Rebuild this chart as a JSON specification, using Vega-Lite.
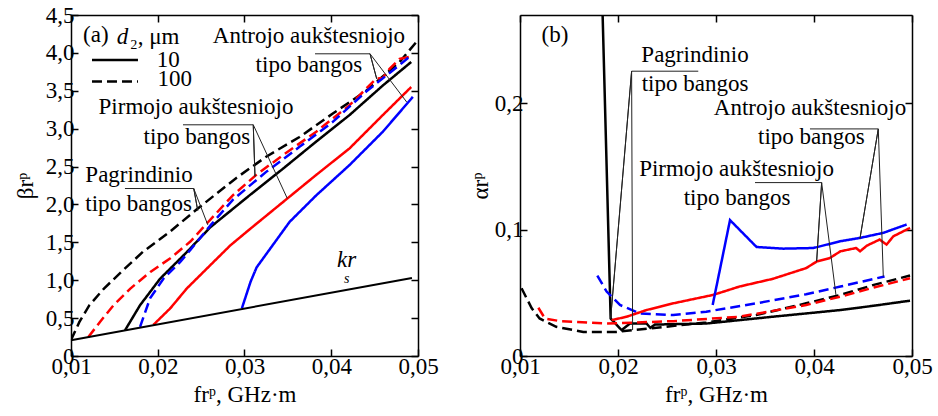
{
"$schema": "https://vega.github.io/schema/vega-lite/v6.json",
"background": "white",
"padding": {"left": 14, "top": 4, "right": 5, "bottom": 5},
"spacing": 30,
"config": {
  "font": "'Liberation Serif', 'DejaVu Serif', serif",
  "view": {"stroke": null},
  "text": {"font": "'Liberation Serif', 'DejaVu Serif', serif"},
  "axis": {"labelFont": "'Liberation Serif', 'DejaVu Serif', serif", "labelFontSize": 23, "labelColor": "black", "titleFont": "'Liberation Serif', 'DejaVu Serif', serif", "titleFontSize": 23, "titleFontWeight": "normal", "titleColor": "black", "domainColor": "black", "domainWidth": 1.5, "tickColor": "black", "tickWidth": 1.5, "tickSize": -7, "grid": false, "labelFlush": false, "labelPadding": 4}
},
"datasets": {
  "curvesA": [
    {"s":"f10","mode":"fund","d2":"10","x":0.01623,"y":0.34},{"s":"f10","mode":"fund","d2":"10","x":0.01796,"y":0.67},{"s":"f10","mode":"fund","d2":"10","x":0.02027,"y":1.02},{"s":"f10","mode":"fund","d2":"10","x":0.02334,"y":1.37},{"s":"f10","mode":"fund","d2":"10","x":0.02607,"y":1.70},{"s":"f10","mode":"fund","d2":"10","x":0.03058,"y":2.12},{"s":"f10","mode":"fund","d2":"10","x":0.03442,"y":2.47},{"s":"f10","mode":"fund","d2":"10","x":0.03827,"y":2.83},{"s":"f10","mode":"fund","d2":"10","x":0.04211,"y":3.18},{"s":"f10","mode":"fund","d2":"10","x":0.04595,"y":3.57},{"s":"f10","mode":"fund","d2":"10","x":0.04922,"y":3.88},
    {"s":"f100","mode":"fund","d2":"100","x":0.0100,"y":0.21},{"s":"f100","mode":"fund","d2":"100","x":0.01097,"y":0.45},{"s":"f100","mode":"fund","d2":"100","x":0.01212,"y":0.67},{"s":"f100","mode":"fund","d2":"100","x":0.01380,"y":0.89},{"s":"f100","mode":"fund","d2":"100","x":0.0158,"y":1.11},{"s":"f100","mode":"fund","d2":"100","x":0.01829,"y":1.375},{"s":"f100","mode":"fund","d2":"100","x":0.0214,"y":1.64},{"s":"f100","mode":"fund","d2":"100","x":0.02444,"y":1.93},{"s":"f100","mode":"fund","d2":"100","x":0.02675,"y":2.14},{"s":"f100","mode":"fund","d2":"100","x":0.02906,"y":2.35},{"s":"f100","mode":"fund","d2":"100","x":0.0325,"y":2.63},{"s":"f100","mode":"fund","d2":"100","x":0.03634,"y":2.89},{"s":"f100","mode":"fund","d2":"100","x":0.04018,"y":3.20},{"s":"f100","mode":"fund","d2":"100","x":0.04403,"y":3.50},{"s":"f100","mode":"fund","d2":"100","x":0.04788,"y":3.88},{"s":"f100","mode":"fund","d2":"100","x":0.0500,"y":4.17},
    {"s":"p100","mode":"first","d2":"100","x":0.0120,"y":0.25},{"s":"p100","mode":"first","d2":"100","x":0.01334,"y":0.45},{"s":"p100","mode":"first","d2":"100","x":0.0149,"y":0.67},{"s":"p100","mode":"first","d2":"100","x":0.01684,"y":0.89},{"s":"p100","mode":"first","d2":"100","x":0.01915,"y":1.11},{"s":"p100","mode":"first","d2":"100","x":0.02145,"y":1.29},{"s":"p100","mode":"first","d2":"100","x":0.02376,"y":1.51},{"s":"p100","mode":"first","d2":"100","x":0.02607,"y":1.80},{"s":"p100","mode":"first","d2":"100","x":0.02865,"y":2.12},{"s":"p100","mode":"first","d2":"100","x":0.03135,"y":2.39},{"s":"p100","mode":"first","d2":"100","x":0.03442,"y":2.65},{"s":"p100","mode":"first","d2":"100","x":0.03827,"y":2.96},{"s":"p100","mode":"first","d2":"100","x":0.04211,"y":3.31},{"s":"p100","mode":"first","d2":"100","x":0.04519,"y":3.66},{"s":"p100","mode":"first","d2":"100","x":0.04595,"y":3.67},{"s":"p100","mode":"first","d2":"100","x":0.04672,"y":3.79},{"s":"p100","mode":"first","d2":"100","x":0.04788,"y":3.92},{"s":"p100","mode":"first","d2":"100","x":0.04903,"y":3.95},
    {"s":"a100","mode":"second","d2":"100","x":0.01796,"y":0.385},{"s":"a100","mode":"second","d2":"100","x":0.01911,"y":0.76},{"s":"a100","mode":"second","d2":"100","x":0.02065,"y":1.02},{"s":"a100","mode":"second","d2":"100","x":0.02257,"y":1.24},{"s":"a100","mode":"second","d2":"100","x":0.02376,"y":1.40},{"s":"a100","mode":"second","d2":"100","x":0.0262,"y":1.74},{"s":"a100","mode":"second","d2":"100","x":0.02865,"y":2.06},{"s":"a100","mode":"second","d2":"100","x":0.0325,"y":2.43},{"s":"a100","mode":"second","d2":"100","x":0.03634,"y":2.76},{"s":"a100","mode":"second","d2":"100","x":0.04018,"y":3.09},{"s":"a100","mode":"second","d2":"100","x":0.04403,"y":3.49},{"s":"a100","mode":"second","d2":"100","x":0.04788,"y":3.84},{"s":"a100","mode":"second","d2":"100","x":0.04922,"y":3.97},
    {"s":"p10","mode":"first","d2":"10","x":0.01949,"y":0.41},{"s":"p10","mode":"first","d2":"10","x":0.02145,"y":0.63},{"s":"p10","mode":"first","d2":"10","x":0.02334,"y":0.89},{"s":"p10","mode":"first","d2":"10","x":0.02607,"y":1.20},{"s":"p10","mode":"first","d2":"10","x":0.02837,"y":1.46},{"s":"p10","mode":"first","d2":"10","x":0.03068,"y":1.68},{"s":"p10","mode":"first","d2":"10","x":0.03442,"y":2.03},{"s":"p10","mode":"first","d2":"10","x":0.03827,"y":2.39},{"s":"p10","mode":"first","d2":"10","x":0.04211,"y":2.74},{"s":"p10","mode":"first","d2":"10","x":0.04595,"y":3.18},{"s":"p10","mode":"first","d2":"10","x":0.04922,"y":3.55},
    {"s":"a10","mode":"second","d2":"10","x":0.0297,"y":0.63},{"s":"a10","mode":"second","d2":"10","x":0.0307,"y":0.98},{"s":"a10","mode":"second","d2":"10","x":0.0314,"y":1.17},{"s":"a10","mode":"second","d2":"10","x":0.0352,"y":1.77},{"s":"a10","mode":"second","d2":"10","x":0.03827,"y":2.12},{"s":"a10","mode":"second","d2":"10","x":0.04211,"y":2.52},{"s":"a10","mode":"second","d2":"10","x":0.04595,"y":2.96},{"s":"a10","mode":"second","d2":"10","x":0.04941,"y":3.42},
    {"s":"leg10","mode":"fund","d2":"10","x":0.01242,"y":3.905},{"s":"leg10","mode":"fund","d2":"10","x":0.01772,"y":3.905},
    {"s":"leg100","mode":"fund","d2":"100","x":0.01242,"y":3.624},{"s":"leg100","mode":"fund","d2":"100","x":0.01772,"y":3.624}
  ],
  "krA": [{"x":0.0100,"y":0.209},{"x":0.0493,"y":1.03}],
  "leadA": [
    {"g":"A","o":1,"x":0.03813,"y":3.988},{"g":"A","o":2,"x":0.04447,"y":3.988},{"g":"A","o":3,"x":0.04524,"y":3.658},{"g":"A","o":4,"x":0.04447,"y":3.988},{"g":"A","o":5,"x":0.0487,"y":3.351},
    {"g":"P","o":1,"x":0.02291,"y":3.051},{"g":"P","o":2,"x":0.03101,"y":3.051},{"g":"P","o":3,"x":0.03121,"y":2.37},{"g":"P","o":4,"x":0.03101,"y":3.051},{"g":"P","o":5,"x":0.03493,"y":2.08},
    {"g":"G","o":1,"x":0.01622,"y":2.21},{"g":"G","o":2,"x":0.02415,"y":2.21},{"g":"G","o":3,"x":0.02461,"y":1.92},{"g":"G","o":4,"x":0.02415,"y":2.21},{"g":"G","o":5,"x":0.02577,"y":1.73}
  ],
  "textA": [
    {"t":"(a)","x":0.01286,"y":4.23},
    {"t":"₂, μm","x":0.01963,"y":4.21},
    {"t":"10","x":0.02122,"y":3.90},
    {"t":"100","x":0.02195,"y":3.66},
    {"t":"Antrojo aukštesniojo","x":0.03743,"y":4.22},
    {"t":"tipo bangos","x":0.03743,"y":3.835},
    {"t":"Pirmojo aukštesniojo","x":0.02441,"y":3.285},
    {"t":"tipo bangos","x":0.02452,"y":2.889},
    {"t":"Pagrindinio","x":0.01784,"y":2.384},
    {"t":"tipo bangos","x":0.0178,"y":2.009}
  ],
  "italA": [{"t":"d","x":0.01593,"y":4.21},{"t":"kr","x":0.04178,"y":1.262}],
  "subA": [{"t":"s","x":0.04178,"y":1.02}],
  "curvesB": [
    {"s":"f10","mode":"fund","d2":"10","x":0.01838,"y":0.285},{"s":"f10","mode":"fund","d2":"10","x":0.01925,"y":0.0297},{"s":"f10","mode":"fund","d2":"10","x":0.02037,"y":0.0205},{"s":"f10","mode":"fund","d2":"10","x":0.02122,"y":0.0257},{"s":"f10","mode":"fund","d2":"10","x":0.02292,"y":0.0257},{"s":"f10","mode":"fund","d2":"10","x":0.0233,"y":0.0223},{"s":"f10","mode":"fund","d2":"10","x":0.02377,"y":0.0249},{"s":"f10","mode":"fund","d2":"10","x":0.0290,"y":0.0257},{"s":"f10","mode":"fund","d2":"10","x":0.0324,"y":0.0284},{"s":"f10","mode":"fund","d2":"10","x":0.0358,"y":0.0311},{"s":"f10","mode":"fund","d2":"10","x":0.0392,"y":0.0337},{"s":"f10","mode":"fund","d2":"10","x":0.0427,"y":0.0364},{"s":"f10","mode":"fund","d2":"10","x":0.0461,"y":0.0398},{"s":"f10","mode":"fund","d2":"10","x":0.0498,"y":0.0438},
    {"s":"f100","mode":"fund","d2":"100","x":0.01016,"y":0.0536},{"s":"f100","mode":"fund","d2":"100","x":0.0112,"y":0.0377},{"s":"f100","mode":"fund","d2":"100","x":0.0120,"y":0.0297},{"s":"f100","mode":"fund","d2":"100","x":0.0137,"y":0.0231},{"s":"f100","mode":"fund","d2":"100","x":0.01646,"y":0.0191},{"s":"f100","mode":"fund","d2":"100","x":0.01986,"y":0.0191},{"s":"f100","mode":"fund","d2":"100","x":0.02327,"y":0.0218},{"s":"f100","mode":"fund","d2":"100","x":0.0290,"y":0.0266},{"s":"f100","mode":"fund","d2":"100","x":0.0341,"y":0.0324},{"s":"f100","mode":"fund","d2":"100","x":0.0392,"y":0.0417},{"s":"f100","mode":"fund","d2":"100","x":0.0427,"y":0.0484},{"s":"f100","mode":"fund","d2":"100","x":0.0461,"y":0.0563},{"s":"f100","mode":"fund","d2":"100","x":0.0498,"y":0.0637},
    {"s":"p100","mode":"first","d2":"100","x":0.01187,"y":0.0382},{"s":"p100","mode":"first","d2":"100","x":0.01255,"y":0.0297},{"s":"p100","mode":"first","d2":"100","x":0.01408,"y":0.0276},{"s":"p100","mode":"first","d2":"100","x":0.01884,"y":0.0257},{"s":"p100","mode":"first","d2":"100","x":0.02564,"y":0.0276},{"s":"p100","mode":"first","d2":"100","x":0.0324,"y":0.0311},{"s":"p100","mode":"first","d2":"100","x":0.0392,"y":0.0404},{"s":"p100","mode":"first","d2":"100","x":0.0427,"y":0.0470},{"s":"p100","mode":"first","d2":"100","x":0.0461,"y":0.0542},{"s":"p100","mode":"first","d2":"100","x":0.0498,"y":0.0616},
    {"s":"a100","mode":"second","d2":"100","x":0.01789,"y":0.0637},{"s":"a100","mode":"second","d2":"100","x":0.01884,"y":0.051},{"s":"a100","mode":"second","d2":"100","x":0.0202,"y":0.0404},{"s":"a100","mode":"second","d2":"100","x":0.02224,"y":0.0337},{"s":"a100","mode":"second","d2":"100","x":0.02564,"y":0.0324},{"s":"a100","mode":"second","d2":"100","x":0.0290,"y":0.0351},{"s":"a100","mode":"second","d2":"100","x":0.0341,"y":0.0417},{"s":"a100","mode":"second","d2":"100","x":0.0392,"y":0.0489},{"s":"a100","mode":"second","d2":"100","x":0.0427,"y":0.055},{"s":"a100","mode":"second","d2":"100","x":0.0472,"y":0.063},
    {"s":"p10","mode":"first","d2":"10","x":0.01935,"y":0.0284},{"s":"p10","mode":"first","d2":"10","x":0.02088,"y":0.0311},{"s":"p10","mode":"first","d2":"10","x":0.02292,"y":0.0364},{"s":"p10","mode":"first","d2":"10","x":0.02564,"y":0.0417},{"s":"p10","mode":"first","d2":"10","x":0.02972,"y":0.0484},{"s":"p10","mode":"first","d2":"10","x":0.0324,"y":0.055},{"s":"p10","mode":"first","d2":"10","x":0.0358,"y":0.0611},{"s":"p10","mode":"first","d2":"10","x":0.0392,"y":0.0696},{"s":"p10","mode":"first","d2":"10","x":0.0403,"y":0.0749},{"s":"p10","mode":"first","d2":"10","x":0.0416,"y":0.0775},{"s":"p10","mode":"first","d2":"10","x":0.0427,"y":0.0829},{"s":"p10","mode":"first","d2":"10","x":0.0443,"y":0.0855},{"s":"p10","mode":"first","d2":"10","x":0.0447,"y":0.0829},{"s":"p10","mode":"first","d2":"10","x":0.0454,"y":0.0874},{"s":"p10","mode":"first","d2":"10","x":0.0467,"y":0.0922},{"s":"p10","mode":"first","d2":"10","x":0.0474,"y":0.0882},{"s":"p10","mode":"first","d2":"10","x":0.0481,"y":0.0948},{"s":"p10","mode":"first","d2":"10","x":0.0498,"y":0.1014},
    {"s":"a10","mode":"second","d2":"10","x":0.02966,"y":0.0404},{"s":"a10","mode":"second","d2":"10","x":0.03143,"y":0.1076},{"s":"a10","mode":"second","d2":"10","x":0.03414,"y":0.0863},{"s":"a10","mode":"second","d2":"10","x":0.03687,"y":0.085},{"s":"a10","mode":"second","d2":"10","x":0.03993,"y":0.0855},{"s":"a10","mode":"second","d2":"10","x":0.04265,"y":0.0908},{"s":"a10","mode":"second","d2":"10","x":0.0447,"y":0.0935},{"s":"a10","mode":"second","d2":"10","x":0.04707,"y":0.0975},{"s":"a10","mode":"second","d2":"10","x":0.04945,"y":0.1041}
  ],
  "leadB": [
    {"g":"G","o":1,"x":0.02819,"y":0.2255},{"g":"G","o":2,"x":0.02139,"y":0.2255},{"g":"G","o":3,"x":0.01925,"y":0.0297},{"g":"G","o":4,"x":0.02139,"y":0.2255},{"g":"G","o":5,"x":0.02149,"y":0.0205},
    {"g":"A","o":1,"x":0.03959,"y":0.1798},{"g":"A","o":2,"x":0.04656,"y":0.1798},{"g":"A","o":3,"x":0.04469,"y":0.093},{"g":"A","o":4,"x":0.04656,"y":0.1798},{"g":"A","o":5,"x":0.04707,"y":0.063},
    {"g":"P","o":1,"x":0.03398,"y":0.1373},{"g":"P","o":2,"x":0.04078,"y":0.1373},{"g":"P","o":3,"x":0.04027,"y":0.0749},{"g":"P","o":4,"x":0.04078,"y":0.1373},{"g":"P","o":5,"x":0.04224,"y":0.0484}
  ],
  "textB": [
    {"t":"(b)","x":0.01357,"y":0.2542},
    {"t":"Pagrindinio","x":0.02786,"y":0.2382},
    {"t":"tipo bangos","x":0.02786,"y":0.2157},
    {"t":"Antrojo aukštesniojo","x":0.03959,"y":0.1966},
    {"t":"tipo bangos","x":0.03973,"y":0.1737},
    {"t":"Pirmojo aukštesniojo","x":0.0321,"y":0.148},
    {"t":"tipo bangos","x":0.03215,"y":0.1253}
  ]
},
"hconcat": [
  {
    "width": 347, "height": 341,
    "resolve": {"axis": {"x": "independent", "y": "independent"}},
    "layer": [
      {"data": {"name": "krA"}, "mark": {"type": "line", "opacity": 0},
       "encoding": {
         "x": {"field": "x", "type": "quantitative", "scale": {"domain": [0.01, 0.05], "nice": false}, "axis": {"orient": "top", "values": [0.01,0.02,0.03,0.04,0.05], "labels": false, "title": null}},
         "y": {"field": "y", "type": "quantitative", "scale": {"domain": [0, 4.5], "nice": false}, "axis": {"orient": "right", "values": [0,0.5,1,1.5,2,2.5,3,3.5,4,4.5], "labels": false, "title": null}}
       }},
      {"data": {"name": "curvesA"}, "mark": {"type": "line", "strokeWidth": 2.5, "clip": true},
       "encoding": {
         "x": {"field": "x", "type": "quantitative", "axis": {"orient": "bottom", "values": [0.01,0.02,0.03,0.04,0.05], "labelExpr": "replace(format(datum.value,'.2f'),'.',',')", "title": "frᵖ, GHz·m", "titlePadding": 5, "labelPadding": 6}},
         "y": {"field": "y", "type": "quantitative", "axis": {"orient": "left", "values": [0,0.5,1,1.5,2,2.5,3,3.5,4,4.5], "labelExpr": "datum.value==0?'0':replace(format(datum.value,'.1f'),'.',',')", "title": "βrᵖ", "titlePadding": 8}},
         "color": {"field": "mode", "type": "nominal", "scale": {"domain": ["fund","first","second"], "range": ["#000000","#ff0000","#0000ff"]}, "legend": null},
         "strokeDash": {"field": "d2", "type": "nominal", "scale": {"domain": ["10","100"], "range": [[1,0],[10,5]]}, "legend": null},
         "detail": {"field": "s"}
       }},
      {"data": {"name": "krA"}, "mark": {"type": "line", "strokeWidth": 2, "color": "black"},
       "encoding": {"x": {"field": "x", "type": "quantitative", "axis": null}, "y": {"field": "y", "type": "quantitative", "axis": null}}},
      {"data": {"name": "leadA"}, "mark": {"type": "line", "strokeWidth": 1, "color": "#222"},
       "encoding": {"x": {"field": "x", "type": "quantitative", "axis": null}, "y": {"field": "y", "type": "quantitative", "axis": null}, "detail": {"field": "g"}, "order": {"field": "o"}}},
      {"data": {"name": "textA"}, "mark": {"type": "text", "fontSize": 23, "align": "center", "baseline": "middle", "color": "black"},
       "encoding": {"x": {"field": "x", "type": "quantitative", "axis": null}, "y": {"field": "y", "type": "quantitative", "axis": null}, "text": {"field": "t"}}},
      {"data": {"name": "italA"}, "mark": {"type": "text", "fontSize": 23, "fontStyle": "italic", "align": "center", "baseline": "middle", "color": "black"},
       "encoding": {"x": {"field": "x", "type": "quantitative", "axis": null}, "y": {"field": "y", "type": "quantitative", "axis": null}, "text": {"field": "t"}}},
      {"data": {"name": "subA"}, "mark": {"type": "text", "fontSize": 14, "fontStyle": "italic", "align": "center", "baseline": "middle", "color": "black"},
       "encoding": {"x": {"field": "x", "type": "quantitative", "axis": null}, "y": {"field": "y", "type": "quantitative", "axis": null}, "text": {"field": "t"}}}
    ]
  },
  {
    "width": 392, "height": 341,
    "resolve": {"axis": {"x": "independent", "y": "independent"}},
    "layer": [
      {"data": {"name": "leadB"}, "mark": {"type": "line", "opacity": 0},
       "encoding": {
         "x": {"field": "x", "type": "quantitative", "scale": {"domain": [0.01, 0.05], "nice": false}, "axis": {"orient": "top", "values": [0.01,0.02,0.03,0.04,0.05], "labels": false, "title": null}},
         "y": {"field": "y", "type": "quantitative", "scale": {"domain": [0, 0.27], "nice": false}, "axis": {"orient": "right", "values": [0,0.1,0.2], "labels": false, "title": null}},
         "detail": {"field": "g"}
       }},
      {"data": {"name": "curvesB"}, "mark": {"type": "line", "strokeWidth": 2.5, "clip": true},
       "encoding": {
         "x": {"field": "x", "type": "quantitative", "axis": {"orient": "bottom", "values": [0.01,0.02,0.03,0.04,0.05], "labelExpr": "replace(format(datum.value,'.2f'),'.',',')", "title": "frᵖ, GHz·m", "titlePadding": 5, "labelPadding": 6}},
         "y": {"field": "y", "type": "quantitative", "axis": {"orient": "left", "values": [0,0.1,0.2], "labelExpr": "datum.value==0?'0':replace(format(datum.value,'.1f'),'.',',')", "title": "αrᵖ", "titlePadding": 2}},
         "color": {"field": "mode", "type": "nominal", "scale": {"domain": ["fund","first","second"], "range": ["#000000","#ff0000","#0000ff"]}, "legend": null},
         "strokeDash": {"field": "d2", "type": "nominal", "scale": {"domain": ["10","100"], "range": [[1,0],[10,5]]}, "legend": null},
         "detail": {"field": "s"}
       }},
      {"data": {"name": "leadB"}, "mark": {"type": "line", "strokeWidth": 1, "color": "#222"},
       "encoding": {"x": {"field": "x", "type": "quantitative", "axis": null}, "y": {"field": "y", "type": "quantitative", "axis": null}, "detail": {"field": "g"}, "order": {"field": "o"}}},
      {"data": {"name": "textB"}, "mark": {"type": "text", "fontSize": 23, "align": "center", "baseline": "middle", "color": "black"},
       "encoding": {"x": {"field": "x", "type": "quantitative", "axis": null}, "y": {"field": "y", "type": "quantitative", "axis": null}, "text": {"field": "t"}}}
    ]
  }
]
}
